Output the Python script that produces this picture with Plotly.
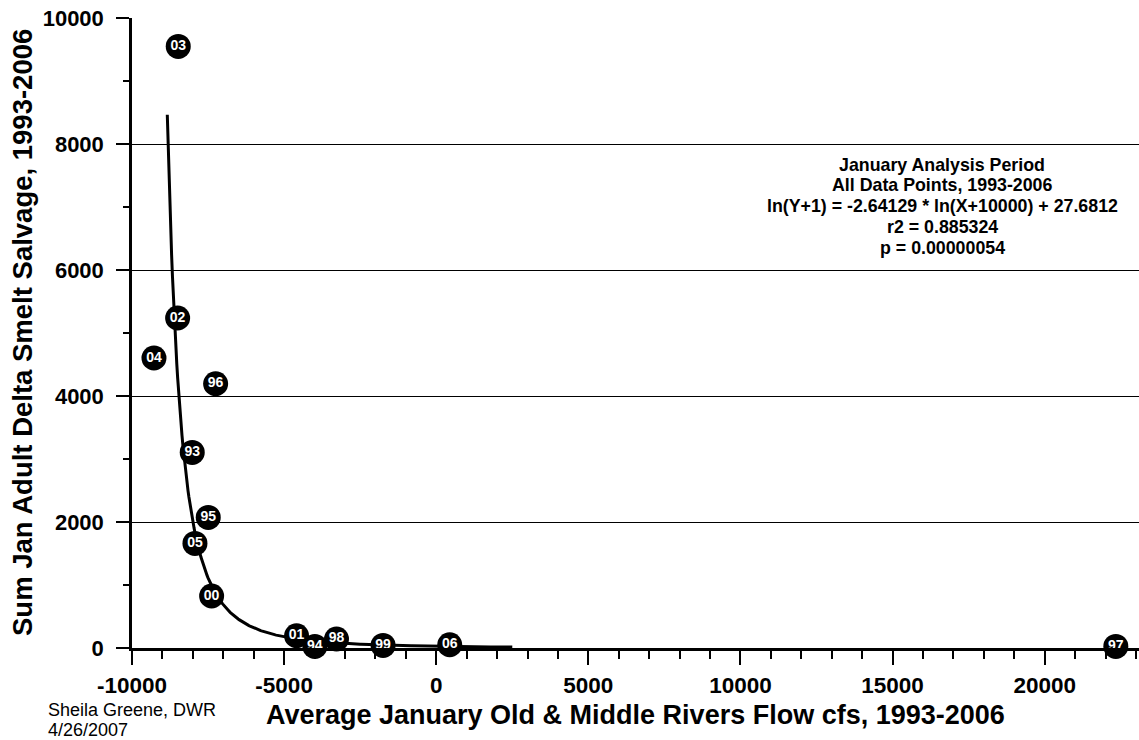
import numpy as np
import plotly.graph_objects as go

# Salvage vs. flow, January 1993-2006 (labelled by two-digit year)
years = ["93", "94", "95", "96", "97", "98", "99", "00", "01", "02", "03", "04", "05", "06"]
omr_flow_cfs = [-8020, -3990, -7494, -7251, 22338, -3278, -1747, -7383, -4591, -8500, -8480, -9278, -7931, 443]
smelt_salvage = [3105, 25, 2073, 4195, 25, 143, 41, 825, 195, 5238, 9549, 4603, 1660, 52]

# Regression: ln(Y+1) = a * ln(X+10000) + b
fit_a = -2.64129
fit_b = 27.6812
fit_offset = 10000
fit_x_start = -8840
fit_x_end = 2500

x_tick_vals = [-10000, -5000, 0, 5000, 10000, 15000, 20000]
x_tick_text = ["-10000", "-5000", "0", "5000", "10000", "15000", "20000"]
y_tick_vals = [0, 2000, 4000, 6000, 8000, 10000]
y_tick_text = ["0", "2000", "4000", "6000", "8000", "10000"]

fit_lines = [
    "January Analysis Period",
    "All Data Points, 1993-2006",
    "ln(Y+1) = -2.64129 * ln(X+10000) + 27.6812",
    "r2 = 0.885324",
    "p = 0.00000054",
]

FONT = "Liberation Sans, Arial, sans-serif"

fit_x = np.linspace(fit_x_start, fit_x_end, 400)
fit_y = np.exp(fit_a * np.log(fit_x + fit_offset) + fit_b) - 1

fig = go.Figure()

fig.add_trace(go.Scatter(
    x=fit_x, y=fit_y, mode="lines",
    line=dict(color="black", width=3),
    hoverinfo="skip",
))

fig.add_trace(go.Scatter(
    x=omr_flow_cfs, y=smelt_salvage, mode="markers+text",
    text=years, textposition="middle center",
    textfont=dict(family=FONT, size=14, color="white", weight="bold"),
    marker=dict(size=25, color="black", line=dict(width=0)),
    cliponaxis=False,
))

# plot area: x 132..1139 px, y 18..648 px
plot_left, plot_right, plot_top, plot_bottom = 132, 1139, 18.3, 648.3
pw = plot_right - plot_left
ph = plot_bottom - plot_top


def px_x(px):
    return (px - plot_left) / pw


def px_y(py):
    return (plot_bottom - py) / ph


fig.update_layout(
    width=1139, height=740,
    margin=dict(l=plot_left, r=1139 - plot_right, t=plot_top, b=740 - plot_bottom),
    paper_bgcolor="white", plot_bgcolor="white",
    showlegend=False,
    font=dict(family=FONT, color="black"),
    xaxis=dict(
        range=[-10000, 23100],
        tickmode="array", tickvals=x_tick_vals, ticktext=x_tick_text,
        showline=True, linecolor="black", linewidth=3,
        ticks="outside", ticklen=14, tickwidth=2, tickcolor="black",
        minor=dict(tickmode="linear", tick0=-10000, dtick=1000, ticks="outside",
                   ticklen=8, tickwidth=2, tickcolor="black", showgrid=False),
        showgrid=False, zeroline=False,
        tickfont=dict(family=FONT, size=22.5, color="black", weight="bold"),
        ticklabelstandoff=1,
    ),
    yaxis=dict(
        range=[0, 10000],
        tickmode="array", tickvals=y_tick_vals, ticktext=y_tick_text,
        showline=True, linecolor="black", linewidth=2.5,
        ticks="outside", ticklen=13, tickwidth=2, tickcolor="black",
        minor=dict(tickmode="linear", tick0=0, dtick=1000, ticks="outside",
                   ticklen=6, tickwidth=2, tickcolor="black", showgrid=False),
        showgrid=True, gridcolor="black", gridwidth=1,
        zeroline=False,
        tickfont=dict(family=FONT, size=22, color="black", weight="bold"),
        ticklabelstandoff=8,
    ),
)

annotations = [
    dict(text="Average January Old & Middle Rivers Flow cfs, 1993-2006",
         x=0.5, y=px_y(715), xref="paper", yref="paper",
         xanchor="center", yanchor="middle", showarrow=False,
         font=dict(family=FONT, size=27, color="black", weight="bold")),
    dict(text="Sum Jan Adult Delta Smelt Salvage, 1993-2006",
         x=px_x(22), y=0.5, xref="paper", yref="paper", textangle=-90,
         xanchor="center", yanchor="middle", showarrow=False,
         font=dict(family=FONT, size=27.5, color="black", weight="bold")),
    dict(text="Sheila Greene, DWR",
         x=px_x(46), y=px_y(710), xref="paper", yref="paper",
         xanchor="left", yanchor="middle", showarrow=False,
         font=dict(family=FONT, size=18, color="black")),
    dict(text="4/26/2007",
         x=px_x(46), y=px_y(730), xref="paper", yref="paper",
         xanchor="left", yanchor="middle", showarrow=False,
         font=dict(family=FONT, size=18, color="black")),
]

line_centers = [165, 185.75, 206.5, 227.25, 248]
for txt, cy in zip(fit_lines, line_centers):
    annotations.append(dict(
        text=txt, x=px_x(942), y=px_y(cy), xref="paper", yref="paper",
        xanchor="center", yanchor="middle", showarrow=False,
        font=dict(family=FONT, size=17.8, color="black", weight="bold"),
    ))

fig.update_layout(annotations=annotations)

fig.write_html("out.html")
